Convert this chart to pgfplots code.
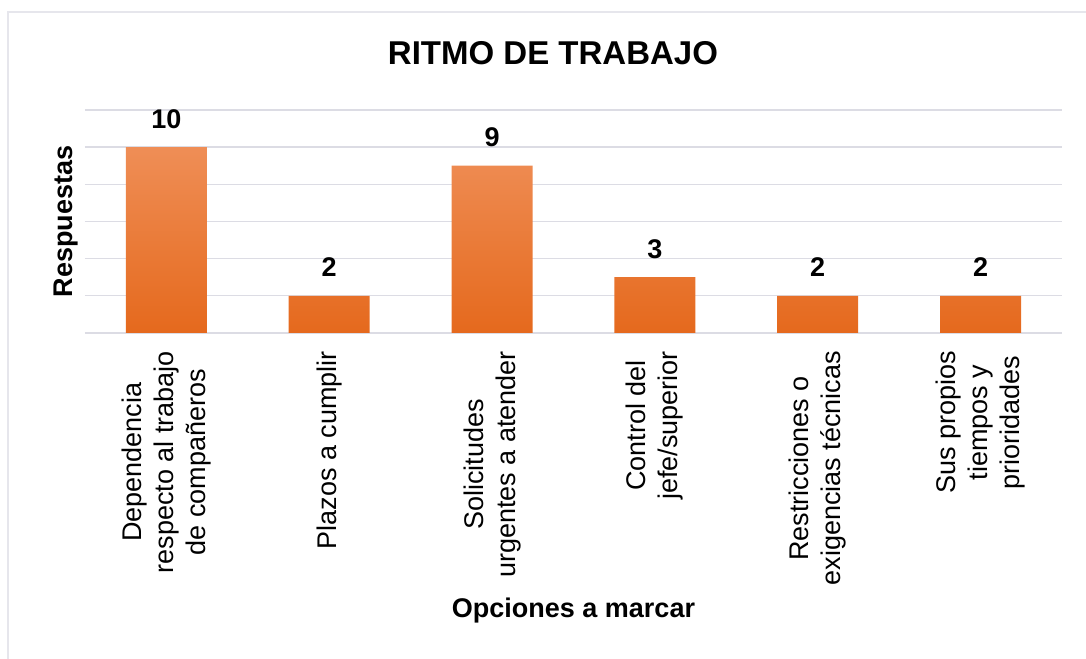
\documentclass[border=0pt]{standalone}
\usepackage{fontspec}
\setmainfont{Liberation Sans}
\usepackage{pgfplots}
\pgfplotsset{compat=1.18}
\definecolor{gridc}{HTML}{DCDCE4}
\definecolor{frame}{HTML}{E6E6EC}
\definecolor{bartop}{HTML}{EF8E56}
\definecolor{barbot}{HTML}{E5691D}
\begin{document}
\begin{tikzpicture}
\useasboundingbox (-63.75pt,-244.5pt) rectangle (750.75pt,249.75pt);
\draw[frame, line width=1.5pt] (-57.75pt,-244.5pt) -- (-57.75pt,240.75pt) -- (750.75pt,240.75pt);
\begin{axis}[
  at={(0,0)}, anchor=south west,
  scale only axis,
  width=732.75pt, height=167.25pt,
  xmin=-0.5, xmax=5.5, ymin=0, ymax=12,
  axis lines*=left,
  x axis line style={draw=gridc, line width=1pt},
  y axis line style={draw=none},
  ytick={0,2,...,12}, yticklabels={},
  ytick style={draw=none},
  ymajorgrids,
  grid style={draw=gridc, line width=1pt},
  xtick={0,1,2,3,4,5},
  major x tick style={draw=none},
  xticklabels={
    {Dependencia\\respecto al trabajo\\de compañeros},
    {Plazos a cumplir},
    {Solicitudes\\urgentes a atender},
    {Control del\\jefe/superior},
    {Restricciones o\\exigencias técnicas},
    {Sus propios\\tiempos y\\prioridades}},
  xticklabel style={rotate=90, anchor=east, align=center, inner sep=0pt,
    font=\fontsize{20.25}{24}\selectfont},
  xticklabel shift=13.5pt,
  extra x ticks={-0.5,0.5,1.5,2.5,3.5,4.5,5.5},
  extra x tick labels={},
  extra x tick style={grid=none, tick align=outside, major tick length=7.5pt,
    tick style={draw=gridc, line width=1pt}},
  title={RITMO DE TRABAJO},
  title style={at={(axis description cs:0.479,1)}, anchor=base, yshift=27.75pt,
    font=\bfseries\fontsize{24.75}{28}\selectfont},
  xlabel={Opciones a marcar},
  xlabel style={at={(axis description cs:0.5,0)}, anchor=base, yshift=-213.75pt,
    font=\bfseries\fontsize{20.25}{24}\selectfont},
  ylabel={Respuestas},
  ylabel style={at={(axis description cs:-0.0123,0.5)}, anchor=base, rotate=0,
    font=\bfseries\fontsize{20.25}{24}\selectfont},
  nodes near coords,
  nodes near coords style={anchor=base, inner sep=0pt, yshift=14.25pt,
    font=\bfseries\fontsize{20.25}{24}\selectfont, text=black,
    /pgf/number format/assume math mode=true},
  clip=false,
]
\addplot[ybar, bar width=60.75pt, draw=none, top color=bartop, bottom color=barbot]
  coordinates {(0,10) (1,2) (2,9) (3,3) (4,2) (5,2)};
\end{axis}
\end{tikzpicture}
\end{document}
